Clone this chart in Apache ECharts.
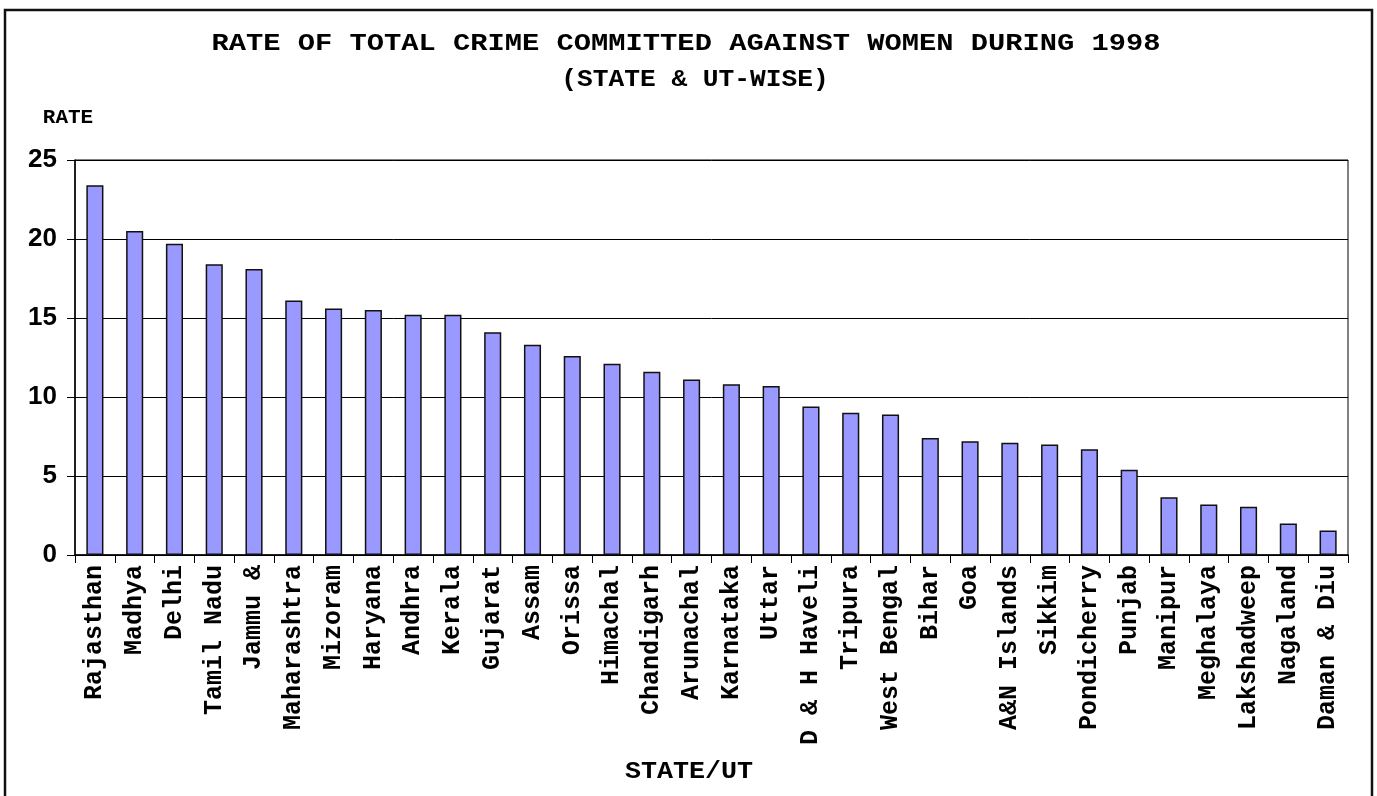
<!DOCTYPE html>
<html>
<head>
<meta charset="utf-8">
<script src="https://cdn.jsdelivr.net/npm/echarts@6/dist/echarts.min.js"></script>
<style>
    html, body { margin: 0; padding: 0; background: #fff; }
    #chart { width: 1377px; height: 796px; }
</style>
</head>
<body>
<div id="chart"></div>
<script>
// states / UTs, in the order of the picture
const states = [
    'Rajasthan', 'Madhya', 'Delhi', 'Tamil Nadu', 'Jammu &', 'Maharashtra',
    'Mizoram', 'Haryana', 'Andhra', 'Kerala', 'Gujarat', 'Assam', 'Orissa',
    'Himachal', 'Chandigarh', 'Arunachal', 'Karnataka', 'Uttar', 'D & H Haveli',
    'Tripura', 'West Bengal', 'Bihar', 'Goa', 'A&N Islands', 'Sikkim',
    'Pondicherry', 'Punjab', 'Manipur', 'Meghalaya', 'Lakshadweep', 'Nagaland',
    'Daman & Diu'
];
// crime rate
const rates = [
    23.4, 20.5, 19.7, 18.4, 18.1, 16.1,
    15.6, 15.5, 15.2, 15.2, 14.1, 13.3, 12.6,
    12.1, 11.6, 11.1, 10.8, 10.7, 9.4,
    9.0, 8.9, 7.4, 7.2, 7.1, 7.0,
    6.7, 5.4, 3.65, 3.2, 3.05, 2.0,
    1.55
];
const yTicks = { min: 0, max: 25, step: 5 };

const mono = '"Liberation Mono", "Courier New", monospace';

let myChart = echarts.init(document.getElementById('chart'));
let option = {
    backgroundColor: '#fff',
    animation: false,
    graphic: [
        {
            // outer frame
            type: 'rect',
            shape: { x: 5, y: 10, width: 1367, height: 800 },
            style: { fill: 'none', stroke: '#111', lineWidth: 2.5 },
            silent: true
        },
        {
            type: 'text', x: 686, y: 44, scaleX: 1.25,
            style: {
                text: 'RATE OF TOTAL CRIME COMMITTED AGAINST WOMEN DURING 1998',
                font: 'bold 23px ' + mono, fill: '#000',
                textAlign: 'center', textVerticalAlign: 'middle',
                align: 'center', verticalAlign: 'middle'
            }
        },
        {
            type: 'text', x: 695, y: 80, scaleX: 1.14,
            style: {
                text: '(STATE & UT-WISE)',
                font: 'bold 23px ' + mono, fill: '#000',
                textAlign: 'center', textVerticalAlign: 'middle',
                align: 'center', verticalAlign: 'middle'
            }
        },
        {
            type: 'text', x: 68, y: 118,
            style: {
                text: 'RATE',
                font: 'bold 21px ' + mono, fill: '#000',
                textAlign: 'center', textVerticalAlign: 'middle',
                align: 'center', verticalAlign: 'middle'
            }
        },
        {
            type: 'text', x: 689, y: 772, scaleX: 1.16,
            style: {
                text: 'STATE/UT',
                font: 'bold 23px ' + mono, fill: '#000',
                textAlign: 'center', textVerticalAlign: 'middle',
                align: 'center', verticalAlign: 'middle'
            }
        }
    ],
    grid: {
        left: 75,
        right: 29,
        top: 160,
        bottom: 241,
        show: true,
        borderColor: '#000',
        borderWidth: 1,
        backgroundColor: 'transparent'
    },
    xAxis: {
        type: 'category',
        data: states,
        axisLine: { lineStyle: { color: '#000', width: 1.5 } },
        axisTick: { show: true, length: 8, lineStyle: { color: '#000' } },
        axisLabel: {
            interval: 0,
            rotate: 90,
            margin: 10,
            color: '#000',
            fontFamily: mono,
            fontWeight: 'bold',
            fontSize: 25
        }
    },
    yAxis: {
        type: 'value',
        min: yTicks.min,
        max: yTicks.max,
        interval: yTicks.step,
        axisLine: { show: true, lineStyle: { color: '#000', width: 1.5 } },
        axisTick: { show: true, length: 8, lineStyle: { color: '#000' } },
        splitLine: { lineStyle: { color: '#000', width: 1 } },
        axisLabel: {
            margin: 18,
            color: '#000',
            fontFamily: '"Liberation Sans Narrow", "Liberation Sans", Arial, sans-serif',
            fontWeight: 'bold',
            fontSize: 26
        }
    },
    series: [
        {
            name: 'Rate',
            type: 'bar',
            data: rates,
            barWidth: '43%',
            itemStyle: {
                color: '#9999ff',
                borderColor: '#111',
                borderWidth: 1.5
            }
        }
    ]
};
myChart.setOption(option);
</script>
</body>
</html>
